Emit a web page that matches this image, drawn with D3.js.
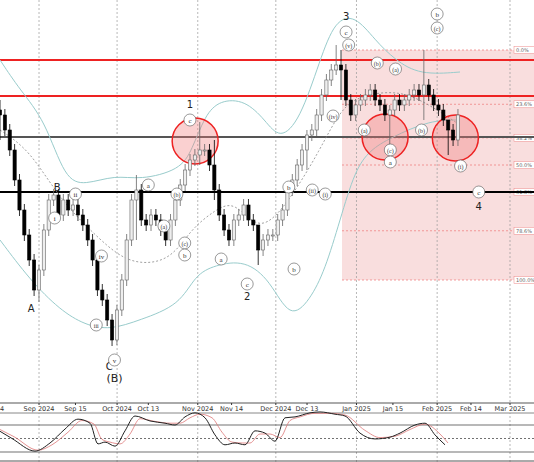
<!DOCTYPE html><html><head><meta charset="utf-8">
<script src="https://cdn.jsdelivr.net/npm/d3@7"></script>
<style>body{margin:0;background:#fff}svg{font-family:"DejaVu Sans",sans-serif}</style></head><body>
<svg id="c" width="534" height="462"></svg>
<script>
const closes=[885,870,850,820,790,765,740,710,730,770,800,805,785,800,790,795,785,775,760,740,710,700,680,660,690,720,760,800,810,780,775,785,780,770,760,780,800,815,830,840,845,850,850,835,810,785,770,760,780,785,795,780,775,750,760,765,765,780,790,810,820,835,850,865,870,885,905,920,930,935,930,900,885,895,900,905,910,900,895,885,890,900,895,900,905,910,905,915,905,895,890,880,870,860,885];
const spikes={0:[900,860],8:[735,698],24:[695,655],28:[825,760],41:[878,835],44:[860,800],53:[760,735],63:[870,830],69:[955,925],70:[950,900],80:[895,840],87:[950,880],92:[870,845]};
const upperBand=[[0,940],[20,910],[45,880],[65,820],[85,815],[115,825],[140,820],[180,830],[192,850],[205,885],[220,900],[245,900],[265,880],[280,860],[300,880],[320,940],[335,980],[355,985],[375,960],[395,940],[420,925],[460,928]];
const lowerBand=[[0,760],[30,720],[60,690],[85,675],[110,670],[140,680],[180,695],[195,725],[215,735],[245,740],[270,720],[290,680],[310,700],[325,730],[340,780],[355,830],[370,850],[390,862],[430,880],[460,880]];
const midBand=[[0,870],[30,850],[60,800],[100,760],[130,735],[170,738],[190,770],[215,790],[235,800],[260,765],[290,800],[320,850],[340,890],[360,905],[400,910],[430,895],[460,875]];
const stochK=[[0,66],[12,50],[35,22],[50,40],[65,71],[78,93],[90,84],[98,38],[105,42],[115,33],[125,67],[135,100],[150,89],[165,84],[175,80],[185,98],[195,107],[205,96],[215,58],[225,36],[235,40],[245,36],[255,67],[265,62],[275,44],[285,96],[295,98],[310,107],[320,109],[335,104],[345,100],[360,62],[375,49],[390,53],[400,62],[415,80],[425,84],[435,58],[445,36]];
const stochD=[[0,70],[14,54],[38,24],[52,36],[68,64],[82,90],[94,82],[102,48],[110,42],[120,38],[130,60],[140,94],[155,88],[170,84],[180,84],[190,96],[200,104],[212,96],[222,64],[232,42],[242,40],[250,40],[260,60],[270,60],[280,52],[290,90],[300,98],[315,106],[330,106],[345,102],[365,68],[380,52],[395,55],[410,70],[425,82],[440,60],[448,40]];
const monthTicks=["2024-09-01","2024-10-01","2024-11-01","2024-12-01","2025-01-01","2025-02-01","2025-03-01"];
const midTicks=[["2024-09-15","Sep 15"],["2024-10-13","Oct 13"],["2024-11-14","Nov 14"],["2024-12-13","Dec 13"],["2025-01-15","Jan 15"],["2025-02-14","Feb 14"]];
const fibLevels=[0,23.6,38.2,50,61.8,78.6,100];
const fibHigh=950, fibLow=720;
const redLines=[940,904], grayLine=863, blackLine=808;
const circles=[["2024-10-31",859],["2025-01-12",863],["2025-02-08",862]];
const waveLabels=[["2024-10-29",892,"1"],["2024-11-20",700,"2"],["2024-12-28",980,"3"],["2025-02-17",790,"4"],["2024-08-29",688,"A"],["2024-09-08",809,"B"],["2024-09-28",630,"C"],["2024-09-30",618,"(B)"]];
const circLabels=[["2024-10-29",880,"c"],["2024-12-28",968,"c"],["2024-12-29",955,"(v)"],["2025-02-01",986,"b"],["2025-02-01",972,"(c)"],["2025-01-04",870,"(a)"],["2025-01-09",937,"(b)"],["2025-01-16",931,"(a)"],["2025-01-26",870,"(b)"],["2025-01-14",850,"(c)"],["2025-01-14",838,"a"],["2025-02-10",834,"(i)"],["2025-02-17",808,"c"],["2024-09-15",806,"ii"],["2024-09-07",782,"i"],["2024-09-25",744,"iv"],["2024-09-23",675,"iii"],["2024-09-30",640,"v"],["2024-10-13",815,"a"],["2024-10-19",774,"(a)"],["2024-10-24",806,"(b)"],["2024-10-27",757,"(c)"],["2024-10-27",745,"b"],["2024-11-10",741,"a"],["2024-11-20",716,"c"],["2024-12-06",813,"b"],["2024-12-08",731,"b"],["2024-12-15",810,"(ii)"],["2024-12-23",884,"(iv)"],["2024-12-20",806,"(i)"]];

const svg=d3.select("#c");
const W=534, P=d3.timeParse("%Y-%m-%d");
const x=d3.scaleTime().domain([P("2024-08-17"),P("2025-03-01")]).range([0,510]);
const xp=d3.scaleLinear().domain([0,510]).range([0,510]);
const y=d3.scaleLinear().domain([1000,600]).range([0,400]);
const sy=d3.scaleLinear().domain([20,80]).range([452,425]);
const start=P("2024-08-17"), n=closes.length;
const cx=i=>x(start)+(x(P("2025-02-09"))-x(start))*i/(n-1);

svg.append("rect").attr("x",342).attr("y",y(fibHigh)).attr("width",W-342).attr("height",y(fibLow)-y(fibHigh)).attr("fill","#f9dede");
monthTicks.forEach(d=>svg.append("line").attr("x1",x(P(d))).attr("x2",x(P(d))).attr("y1",0).attr("y2",462).attr("stroke","#999").attr("stroke-dasharray","2,2").attr("stroke-width",0.7));
fibLevels.forEach(f=>{const p=fibHigh-(fibHigh-fibLow)*f/100;
 svg.append("line").attr("x1",342).attr("x2",W).attr("y1",y(p)).attr("y2",y(p)).attr("stroke","#e77").attr("stroke-dasharray","2,2").attr("stroke-width",0.7);
 svg.append("rect").attr("x",514).attr("y",y(p)-3.5).attr("width",22).attr("height",7).attr("fill","#fff").attr("stroke","#e88").attr("stroke-width",0.5);
 svg.append("text").attr("x",516).attr("y",y(p)+2).attr("font-size",5).attr("fill","#666").text(f.toFixed(1)+"%");});
redLines.forEach(p=>svg.append("line").attr("x1",0).attr("x2",W).attr("y1",y(p)).attr("y2",y(p)).attr("stroke","#e22").attr("stroke-width",2));
svg.append("line").attr("x1",0).attr("x2",W).attr("y1",y(grayLine)).attr("y2",y(grayLine)).attr("stroke","#555").attr("stroke-width",2);
svg.append("line").attr("x1",0).attr("x2",W).attr("y1",y(blackLine)).attr("y2",y(blackLine)).attr("stroke","#000").attr("stroke-width",2.2);
const ln=d3.line().x(d=>xp(d[0])).y(d=>y(d[1])).curve(d3.curveBasis);
svg.append("path").attr("d",ln(upperBand)).attr("fill","none").attr("stroke","#9cc").attr("stroke-width",1);
svg.append("path").attr("d",ln(lowerBand)).attr("fill","none").attr("stroke","#9cc").attr("stroke-width",1);
svg.append("path").attr("d",ln(midBand)).attr("fill","none").attr("stroke","#888").attr("stroke-dasharray","2,2").attr("stroke-width",0.8);
circles.forEach(c=>svg.append("circle").attr("cx",x(P(c[0]))).attr("cy",y(c[1])).attr("r",23).attr("fill","rgba(240,120,120,0.35)").attr("stroke","#e22").attr("stroke-width",1.5));
closes.forEach((c,i)=>{const o=i?closes[i-1]:c+5;let hi=Math.max(o,c)+6,lo=Math.min(o,c)-6;
 if(spikes[i]){hi=spikes[i][0];lo=spikes[i][1];}
 const X=cx(i),up=c>=o;
 svg.append("line").attr("x1",X).attr("x2",X).attr("y1",y(hi)).attr("y2",y(lo)).attr("stroke",up?"#666":"#000").attr("stroke-width",0.8);
 svg.append("rect").attr("x",X-1.6).attr("width",3.2).attr("y",y(Math.max(o,c))).attr("height",Math.max(1,Math.abs(y(o)-y(c)))).attr("fill",up?"#eee":"#000").attr("stroke",up?"#666":"#000").attr("stroke-width",0.6);});
waveLabels.forEach(l=>svg.append("text").attr("x",x(P(l[0]))).attr("y",y(l[1])).attr("text-anchor","middle").attr("font-size",l[2].length>1?11:10).attr("fill","#222").text(l[2]));
circLabels.forEach(l=>{const X=x(P(l[0])),Y=y(l[1]);
 svg.append("circle").attr("cx",X).attr("cy",Y).attr("r",6).attr("fill","#fff").attr("stroke","#555").attr("stroke-width",0.6);
 svg.append("text").attr("x",X).attr("y",Y+2.5).attr("text-anchor","middle").attr("font-family","Liberation Serif").attr("font-size",l[2].length>2?6:7).attr("fill","#333").text(l[2]);});
svg.append("rect").attr("x",0).attr("y",403).attr("width",W).attr("height",10).attr("fill","#fff");
svg.append("line").attr("x1",0).attr("x2",W).attr("y1",403).attr("y2",403).attr("stroke","#aaa").attr("stroke-width",2);
svg.append("line").attr("x1",0).attr("x2",W).attr("y1",413).attr("y2",413).attr("stroke","#888");
const fmt=d3.timeFormat("%b %Y");
svg.append("text").attr("x",0).attr("y",411).attr("font-size",6.5).attr("fill","#333").text("4");
monthTicks.map(d=>[d,fmt(P(d))]).concat(midTicks).forEach(t=>{
 svg.append("text").attr("x",x(P(t[0]))).attr("y",411).attr("text-anchor","middle").attr("font-size",6.5).attr("fill","#333").text(t[1]);
 svg.append("line").attr("x1",x(P(t[0]))).attr("x2",x(P(t[0]))).attr("y1",403).attr("y2",405).attr("stroke","#333");});
[80,20].forEach(v=>svg.append("line").attr("x1",0).attr("x2",W).attr("y1",sy(v)).attr("y2",sy(v)).attr("stroke","#333").attr("stroke-width",0.7));
svg.append("line").attr("x1",0).attr("x2",W).attr("y1",sy(50)).attr("y2",sy(50)).attr("stroke","#333").attr("stroke-dasharray","2,2").attr("stroke-width",0.7);
const sl=d3.line().x(d=>xp(d[0])).y(d=>sy(d[1])).curve(d3.curveMonotoneX);
svg.append("path").attr("d",sl(stochD)).attr("fill","none").attr("stroke","#d77").attr("stroke-width",0.8);
svg.append("path").attr("d",sl(stochK)).attr("fill","none").attr("stroke","#222").attr("stroke-width",1);
svg.append("line").attr("x1",0).attr("x2",W).attr("y1",461).attr("y2",461).attr("stroke","#555");
</script></body></html>
